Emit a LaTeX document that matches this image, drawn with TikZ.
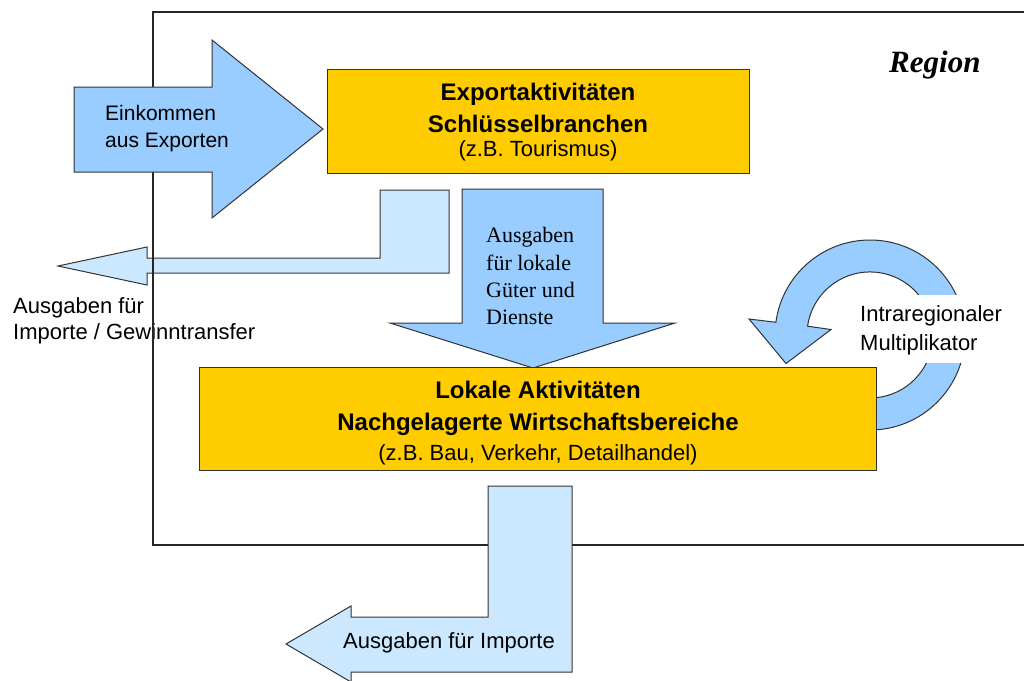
\documentclass[tikz,border=0pt]{standalone}
\usepackage{fontspec}
\setmainfont{Liberation Sans}
\newfontfamily\timesf{Liberation Serif}
\definecolor{arrowblue}{HTML}{99CCFF}
\definecolor{lightblue}{HTML}{CCE8FF}
\definecolor{gold}{HTML}{FFCC00}
\definecolor{edge}{HTML}{333333}
\begin{document}
\begin{tikzpicture}[x=1pt,y=-1pt,
  shapeline/.style={draw=edge,line width=1pt,line join=miter},
  bluearrow/.style={shapeline,fill=arrowblue},
  lightarrow/.style={shapeline,fill=lightblue},
  goldbox/.style={draw=edge,line width=1pt,fill=gold,inner sep=0pt},
  lbl/.style={inner sep=0pt,font=\fontsize{22}{26}\selectfont},
  boldlbl/.style={inner sep=0pt,font=\fontsize{24}{28}\selectfont\bfseries},
  serlbl/.style={inner sep=0pt,font=\fontsize{22}{26}\selectfont\timesf},
  regionlbl/.style={inner sep=0pt,font=\fontsize{31}{36}\selectfont\timesf\bfseries\itshape},
]
\clip (0,0) rectangle (1024,680);
\fill[white] (0,0) rectangle (1024,680);

% left import / profit transfer arrow
\draw[lightarrow] (380,190) -- (449,190) -- (449,273) -- (147,273) -- (147,285)
  -- (58,266) -- (147,247) -- (147,258) -- (380,258) -- cycle;
\node[lbl,anchor=base west] (imp1) at (13,313) {Ausgaben für};
\node[lbl,anchor=base west] (imp2) at (13,339.5) {Importe / Gewinntransfer};

% region frame
\draw[line width=1.5pt,draw=black!85] (1040,12) -- (153,12) -- (153,545) -- (1040,545);
\node[regionlbl,anchor=base west] (region) at (889,72.5) {Region};

% income arrow
\draw[bluearrow] (74,87) -- (212,87) -- (212,40) -- (323,129) -- (212,218)
  -- (212,172) -- (74,172) -- cycle;
\node[lbl,anchor=base west,font=\fontsize{21}{26}\selectfont] (ink1) at (105,120.5) {Einkommen};
\node[lbl,anchor=base west,font=\fontsize{21}{26}\selectfont] (ink2) at (105,147) {aus Exporten};

% middle down arrow
\draw[bluearrow] (462,189) -- (603,189) -- (603,323) -- (675,323) -- (533,368)
  -- (390,323) -- (462,323) -- cycle;
\node[serlbl,anchor=base west] (aus1) at (486,242.5) {Ausgaben};
\node[serlbl,anchor=base west] (aus2) at (486,270) {für lokale};
\node[serlbl,anchor=base west] (aus3) at (486,297) {Güter und};
\node[serlbl,anchor=base west] (aus4) at (486,324) {Dienste};

% circular multiplier arrow
\draw[bluearrow] (870,430) arc[start angle=90,end angle=-172.3,radius=95]
  -- (749,319) -- (786,363.5) -- (831,329.5) -- (807.6,326.2)
  arc[start angle=-172,end angle=90,radius=63] -- cycle;
\node[fill=white,inner sep=0pt,minimum width=148,minimum height=68,anchor=north west] (wbox) at (857,295) {};
\node[lbl,anchor=base west] (mul1) at (860,321.5) {Intraregionaler};
\node[lbl,anchor=base west] (mul2) at (860,350.5) {Multiplikator};

% export box
\node[goldbox,minimum width=422,minimum height=104,anchor=north west] (exp) at (327,69) {};
\node[boldlbl,anchor=base] (exp1) at (538,100.5) {Exportaktivitäten};
\node[boldlbl,anchor=base] (exp2) at (538,132.5) {Schlüsselbranchen};
\node[lbl,anchor=base] (exp3) at (538,156.5) {(z.B. Tourismus)};

% local box
\node[goldbox,minimum width=677,minimum height=103,anchor=north west] (loc) at (199,367) {};
\node[boldlbl,anchor=base] (loc1) at (538,398.5) {Lokale Aktivitäten};
\node[boldlbl,anchor=base] (loc2) at (538,430) {Nachgelagerte Wirtschaftsbereiche};
\node[lbl,anchor=base] (loc3) at (538,460) {(z.B. Bau, Verkehr, Detailhandel)};

% bottom import arrow
\draw[lightarrow] (488,486) -- (572,486) -- (572,672) -- (351,672) -- (351,682)
  -- (286,644) -- (351,606) -- (351,617) -- (488,617) -- cycle;
\node[lbl,anchor=base west] (bimp) at (343,648) {Ausgaben für Importe};
\end{tikzpicture}
\end{document}
